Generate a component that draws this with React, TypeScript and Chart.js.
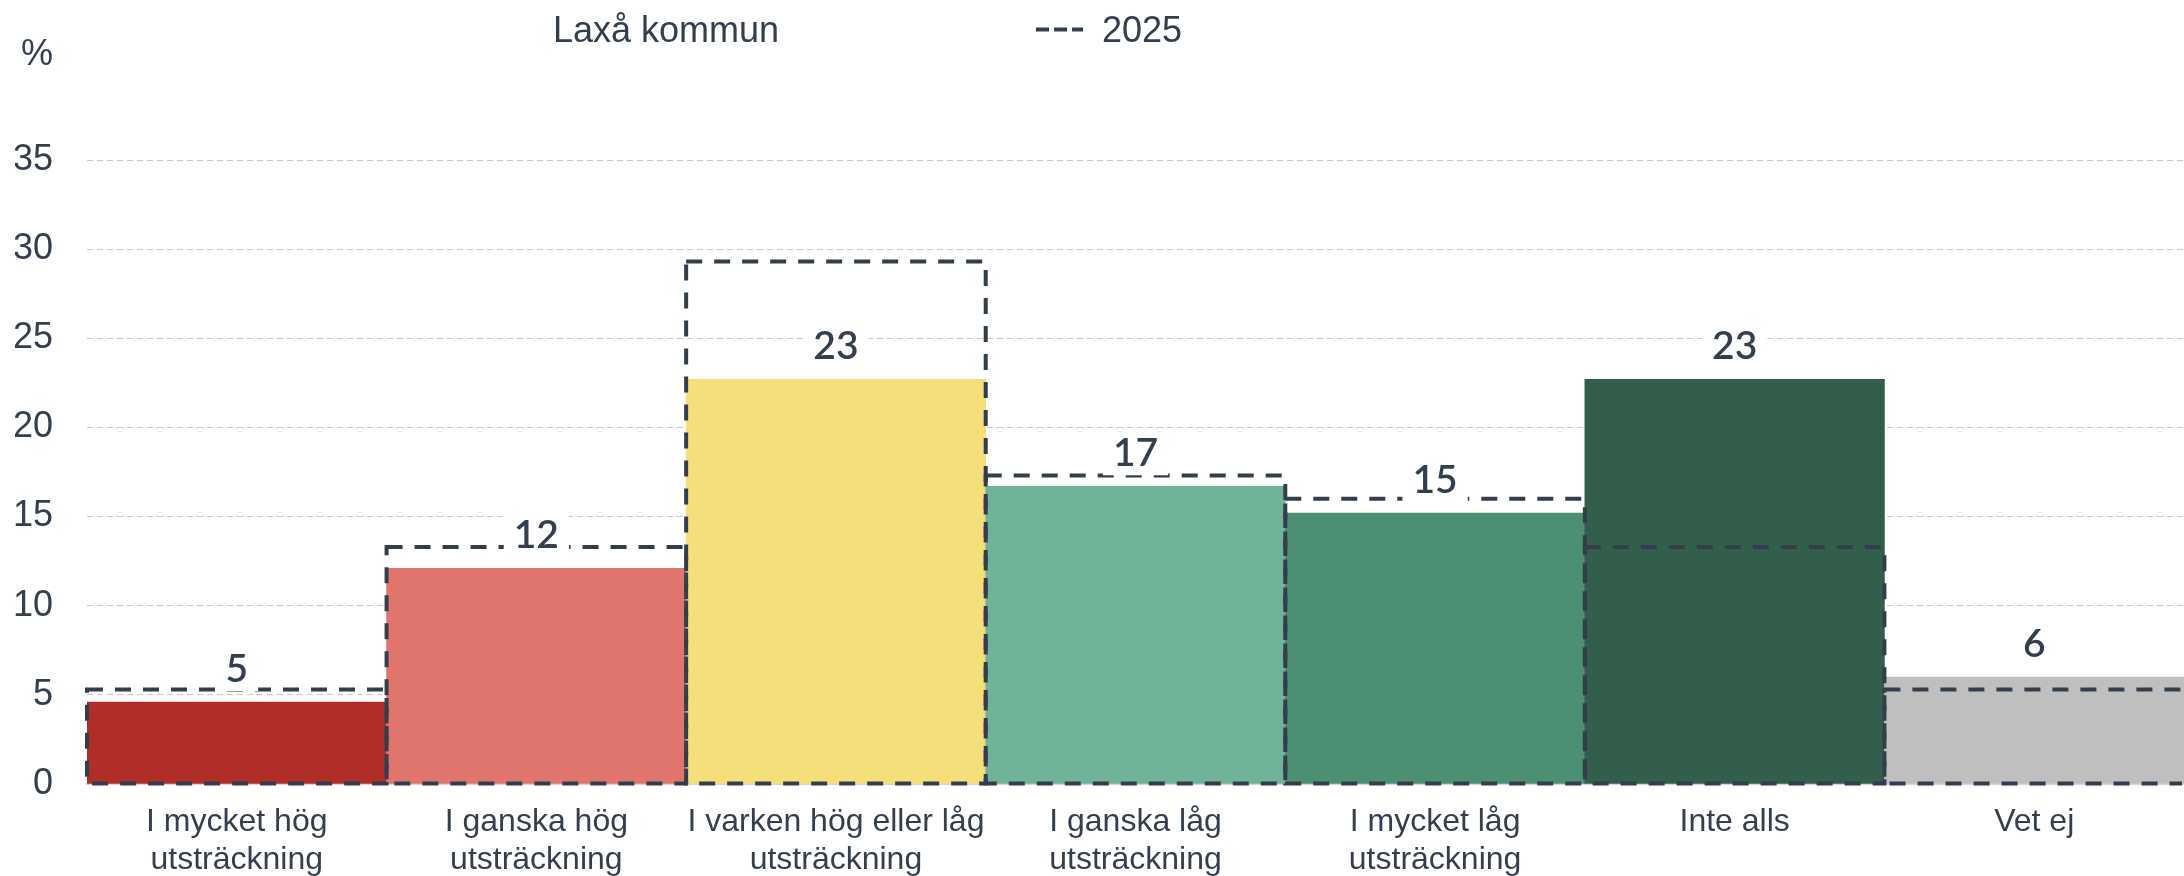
import React, { useEffect, useRef } from "react";
import { Chart, registerables } from "chart.js";

Chart.register(...registerables);

// ---- data ----
const categories: (string | string[])[] = [
  ["I mycket hög", "utsträckning"],
  ["I ganska hög", "utsträckning"],
  ["I varken hög eller låg", "utsträckning"],
  ["I ganska låg", "utsträckning"],
  ["I mycket låg", "utsträckning"],
  "Inte alls",
  "Vet ej",
];
const seriesNames = ["Laxå kommun", "2025"];
const laxaValues = [4.6, 12.1, 22.7, 16.7, 15.2, 22.7, 6.0];
const values2025 = [5.3, 13.3, 29.3, 17.3, 16.0, 13.3, 5.3];
const barColors = ["#b02e27", "#e0756d", "#f5df7b", "#70b398", "#4d8f73", "#345e4c", "#bfbfbf"];
const yMin = 0;
const yMax = 35;
const yStep = 5;
const unitLabel = "%";

const TEXT = "#333f4f";
const DASH = "#323e4c";
const SANS = "'Liberation Sans', Arial, sans-serif";

const customPlugin = {
  id: "customDraw",
  afterDatasetsDraw(chart: any) {
    const ctx = chart.ctx;
    const area = chart.chartArea;
    // dashed outlines of 2025 series
    const dashMeta = chart.getDatasetMeta(1);
    ctx.save();
    ctx.beginPath();
    ctx.rect(0, 0, area.right - 2, chart.height);
    ctx.clip();
    ctx.strokeStyle = DASH;
    ctx.lineWidth = 4;
    ctx.setLineDash([16, 12]);
    dashMeta.data.forEach((el: any) => {
      const { x, y, base, width } = el.getProps(["x", "y", "base", "width"], true);
      ctx.beginPath();
      ctx.rect(x - width / 2, y, width, base - y);
      ctx.stroke();
    });
    ctx.restore();

    // value labels
    const barMeta = chart.getDatasetMeta(0);
    const vals = chart.data.datasets[0].data as number[];
    ctx.save();
    ctx.font = "600 39px Lato, sans-serif";
    ctx.textAlign = "center";
    ctx.textBaseline = "middle";
    barMeta.data.forEach((el: any, i: number) => {
      const txt = String(Math.round(vals[i]));
      const cy = el.y - 34;
      const w = ctx.measureText(txt).width + 20;
      ctx.fillStyle = "#ffffff";
      ctx.fillRect(el.x - w / 2, cy - 23, w, 46);
      ctx.fillStyle = TEXT;
      ctx.fillText(txt, el.x, cy + 1);
    });
    ctx.restore();
  },
  afterDraw(chart: any) {
    const ctx = chart.ctx;
    const yScale = chart.scales.y;
    ctx.save();
    // unit label
    ctx.font = `36px ${SANS}`;
    ctx.fillStyle = TEXT;
    ctx.textAlign = "right";
    ctx.textBaseline = "alphabetic";
    ctx.fillText(unitLabel, yScale.right - 34, 65);

    // legend
    ctx.font = `36px ${SANS}`;
    ctx.textAlign = "left";
    ctx.fillText(chart.data.datasets[0].label, 553, 42);
    ctx.strokeStyle = DASH;
    ctx.lineWidth = 4;
    ctx.setLineDash([13, 5]);
    ctx.beginPath();
    ctx.moveTo(1036, 29.5);
    ctx.lineTo(1083, 29.5);
    ctx.stroke();
    ctx.setLineDash([]);
    ctx.fillText(chart.data.datasets[1].label, 1102, 42);
    ctx.restore();
  },
};

export default function App() {
  const ref = useRef<HTMLCanvasElement | null>(null);

  useEffect(() => {
    if (!ref.current) return;
    const chart = new Chart(ref.current, {
      type: "bar",
      data: {
        labels: categories,
        datasets: [
          {
            label: seriesNames[0],
            data: laxaValues,
            backgroundColor: barColors,
            borderWidth: 0,
            barPercentage: 1,
            categoryPercentage: 1,
            grouped: false,
            order: 2,
          },
          {
            label: seriesNames[1],
            data: values2025,
            backgroundColor: "rgba(0,0,0,0)",
            borderWidth: 0,
            barPercentage: 1,
            categoryPercentage: 1,
            grouped: false,
            order: 1,
          },
        ],
      },
      options: {
        responsive: false,
        animation: false,
        layout: { padding: { top: 160, left: 15, right: 0, bottom: 0 } },
        plugins: {
          legend: { display: false },
          tooltip: { enabled: false },
        },
        scales: {
          x: {
            grid: { display: false, drawTicks: false },
            border: { display: true, color: "#ccd6eb", width: 2 },
            ticks: {
              color: TEXT,
              font: { family: SANS, size: 32 },
              padding: 19,
              autoSkip: false,
              maxRotation: 0,
              minRotation: 0,
            },
            afterFit: (s: any) => {
              s.height = 92;
            },
          },
          y: {
            min: yMin,
            max: yMax,
            grid: { color: "#c8c8c8", lineWidth: 1, drawTicks: false },
            border: { display: false, dash: [6, 4] },
            ticks: {
              stepSize: yStep,
              color: TEXT,
              font: { family: SANS, size: 36 },
              padding: 34,
            },
            afterFit: (s: any) => {
              s.width = 72;
            },
          },
        },
      },
      plugins: [customPlugin],
    });
    return () => chart.destroy();
  }, []);

  return (
    <div style={{ position: "absolute", left: 0, top: 0, width: 2184, height: 876 }}>
      <canvas ref={ref} width={2184} height={876} style={{ display: "block" }} />
    </div>
  );
}
